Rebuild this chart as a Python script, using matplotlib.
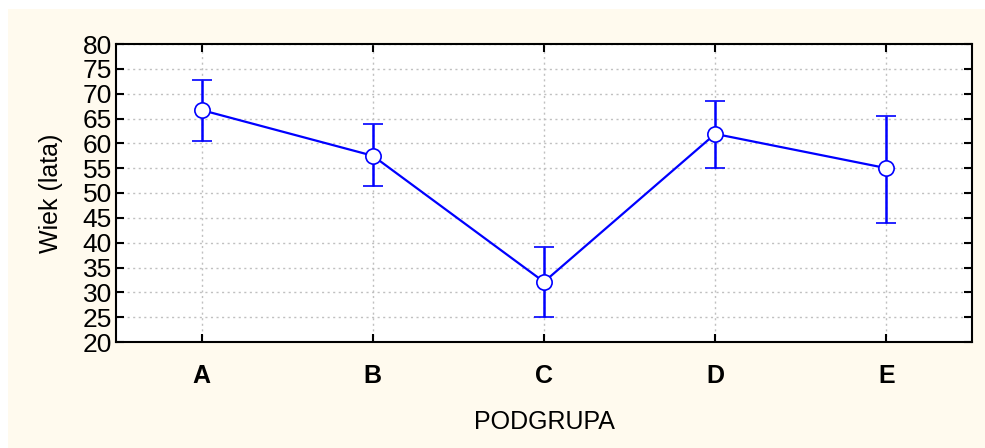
import matplotlib.pyplot as plt
from matplotlib.patches import Rectangle

plt.rcParams['font.family'] = ['Liberation Sans', 'DejaVu Sans']

# średni wiek w podgrupach z przedziałami
podgrupy = ['A', 'B', 'C', 'D', 'E']
srednia = [66.7, 57.5, 32.1, 61.9, 55.0]
dolna = [60.5, 51.4, 25.1, 55.1, 44.0]
gorna = [72.8, 63.9, 39.2, 68.5, 65.5]

err_dol = [s - d for s, d in zip(srednia, dolna)]
err_gor = [g - s for s, g in zip(srednia, gorna)]

fig = plt.figure(figsize=(9.85, 4.48), dpi=100, facecolor='white')
# kremowe tło pod wykresem
fig.patches.append(Rectangle((8 / 985, 0), 1, 1 - 9 / 448, transform=fig.transFigure,
                             facecolor='#fffaee', edgecolor='none', zorder=-5))

ax = fig.add_axes([116 / 985, 1 - 342 / 448, (972 - 116) / 985, (342 - 44) / 448])
ax.set_facecolor('white')

x = list(range(len(podgrupy)))
ax.errorbar(x, srednia, yerr=[err_dol, err_gor], color='#0000ff', lw=1.6,
            marker='o', ms=11, mfc='white', mec='#0000ff', mew=1.2,
            capsize=7, capthick=1.8, elinewidth=1.8, zorder=3)

ax.set_xlim(-0.5, 4.5)
ax.set_ylim(20, 80)
ax.set_yticks(range(20, 81, 5))
ax.set_xticks(x)
ax.set_xticklabels(podgrupy, fontsize=18, fontweight='bold')
ax.tick_params(axis='y', labelsize=19, direction='in', length=6, width=1.5,
               left=True, right=True, pad=3)
ax.tick_params(axis='x', direction='in', length=6, width=1.5, top=True, bottom=True, pad=16)

ax.grid(True, ls=(0, (1.5, 2.5)), color='#c0c0c0', lw=1)
for s in ax.spines.values():
    s.set_linewidth(1.5)

ax.set_xlabel('PODGRUPA', fontsize=18, labelpad=16)
ax.set_ylabel('Wiek (lata)', fontsize=18, labelpad=14)

fig.savefig('out.png', dpi=100, facecolor=fig.get_facecolor())
